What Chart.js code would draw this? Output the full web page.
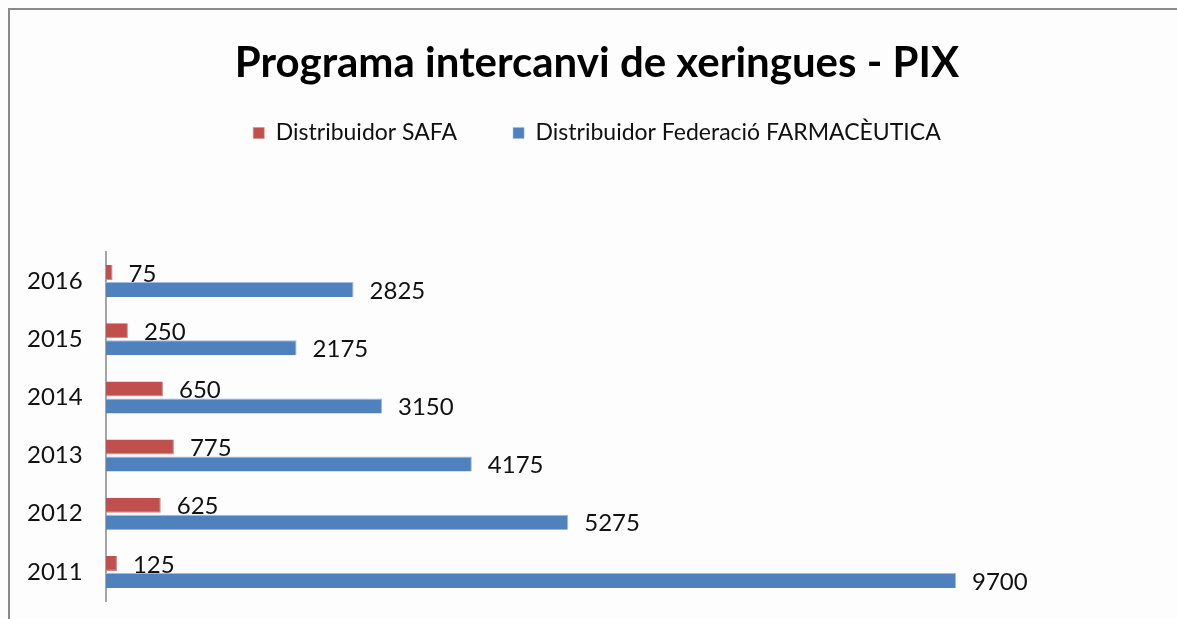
<!DOCTYPE html>
<html>
<head>
<meta charset="utf-8">
<script src="https://cdn.jsdelivr.net/npm/chart.js@4"></script>
<style>
html,body{margin:0;padding:0;background:#fdfdfd;}
#wrap{position:relative;width:1177px;height:619px;}
</style>
</head>
<body>
<div id="wrap"><canvas id="c" width="1177" height="619"></canvas></div>
<script>
const years = ['2016','2015','2014','2013','2012','2011'];
const safa = [75, 250, 650, 775, 625, 125];
const federacio = [2825, 2175, 3150, 4175, 5275, 9700];
const seriesNames = ['Distribuidor SAFA', 'Distribuidor Federació FARMACÈUTICA'];
const titleText = 'Programa intercanvi de xeringues - PIX';

const frame = {
  id: 'frame',
  beforeDraw(chart) {
    const ctx = chart.ctx;
    ctx.save();
    ctx.fillStyle = '#fdfdfd';
    ctx.fillRect(0, 0, chart.width, chart.height);
    ctx.strokeStyle = '#8a8a8a';
    ctx.lineWidth = 2;
    ctx.beginPath();
    ctx.moveTo(9, chart.height);
    ctx.lineTo(9, 9);
    ctx.lineTo(chart.width, 9);
    ctx.stroke();
    ctx.restore();
  }
};

const valueLabels = {
  id: 'valueLabels',
  afterDatasetsDraw(chart) {
    const ctx = chart.ctx;
    ctx.save();
    ctx.font = '24px Lato';
    ctx.fillStyle = '#111';
    ctx.textAlign = 'left';
    ctx.textBaseline = 'middle';
    chart.data.datasets.forEach((ds, di) => {
      const meta = chart.getDatasetMeta(di);
      meta.data.forEach((bar, i) => {
        ctx.fillText(String(ds.data[i]), bar.x + 16, bar.y + 1.5);
      });
    });
    ctx.restore();
  }
};

new Chart(document.getElementById('c'), {
  type: 'bar',
  data: {
    labels: years,
    datasets: [
      { label: seriesNames[0], data: safa, backgroundColor: '#c0504d', borderColor: '#d58a88', borderWidth: {bottom:1, right:1}, borderSkipped: 'left' },
      { label: seriesNames[1], data: federacio, backgroundColor: '#4f81bd', borderColor: '#9fbbe0', borderWidth: {top:1, right:1}, borderSkipped: 'left' }
    ]
  },
  options: {
    indexAxis: 'y',
    responsive: false,
    animation: false,
    layout: { padding: { left: 27, right: 10, top: 0, bottom: 18 } },
    datasets: { bar: { categoryPercentage: 0.584, barPercentage: 0.88 } },
    scales: {
      x: { display: false, min: 0, max: 12108 },
      y: {
        grid: { display: false, drawTicks: false },
        border: { display: true, color: '#a6a6a6', width: 2 },
        ticks: { color: '#111', font: { family: 'Lato', size: 24 }, padding: 0, crossAlign: 'far' },
        afterFit(scale) { scale.width = 79; }
      }
    },
    plugins: {
      title: {
        display: true,
        text: titleText,
        color: '#000',
        font: { family: 'Lato', size: 42, weight: 'bold' },
        padding: { top: 37.8, bottom: -22.7 }
      },
      legend: {
        display: true,
        position: 'top',
        weight: 1800,
        labels: {
          color: '#111',
          font: { family: 'Lato', size: 23 },
          boxWidth: 11,
          boxHeight: 11,
          padding: 56
        }
      },
      subtitle: {
        display: true,
        text: '',
        position: 'top',
        font: { size: 10 },
        padding: { top: 85.5, bottom: 0 }
      },
      tooltip: { enabled: false }
    }
  },
  plugins: [frame, valueLabels]
});
</script>
</body>
</html>
